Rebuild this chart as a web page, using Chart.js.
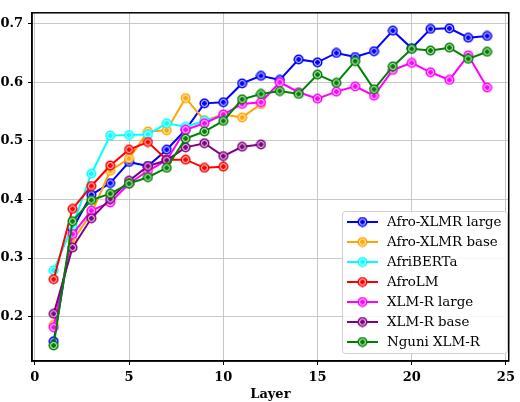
<!DOCTYPE html>
<html>
<head>
<meta charset="utf-8">
<script src="https://cdn.jsdelivr.net/npm/chart.js@4.4.0/dist/chart.umd.min.js"></script>
<style>
  html, body { margin: 0; padding: 0; background: #fff; }
  #wrap { width: 520px; height: 402px; position: relative; }
</style>
</head>
<body>
<div id="wrap"><canvas id="chart"></canvas></div>
<script>
// layer-wise scores
const layers24 = [1,2,3,4,5,6,7,8,9,10,11,12,13,14,15,16,17,18,19,20,21,22,23,24];

const afroXlmrLarge = [0.158,0.350,0.408,0.428,0.464,0.457,0.485,0.519,0.564,0.566,0.598,0.611,
                       0.604,0.639,0.634,0.650,0.643,0.653,0.688,0.658,0.691,0.692,0.676,0.679];
const afroXlmrBase  = [0.186,0.330,0.376,0.449,0.470,0.516,0.518,0.573,0.535,0.545,0.540,0.563];
const afriBerta     = [0.279,0.355,0.444,0.509,0.510,0.511,0.530,0.524,0.534,0.543];
const afroLm        = [0.264,0.384,0.423,0.458,0.485,0.498,0.468,0.468,0.454,0.456];
const xlmrLarge     = [0.182,0.341,0.381,0.395,0.427,0.449,0.467,0.519,0.530,0.545,0.563,0.566,
                       0.600,0.583,0.572,0.584,0.593,0.577,0.621,0.633,0.617,0.604,0.646,0.591];
const xlmrBase      = [0.205,0.318,0.368,0.401,0.432,0.457,0.467,0.489,0.496,0.474,0.490,0.494];
const nguniXlmr     = [0.151,0.363,0.399,0.410,0.427,0.438,0.454,0.504,0.516,0.534,0.571,0.580,
                       0.585,0.580,0.613,0.599,0.636,0.588,0.627,0.657,0.654,0.659,0.640,0.652];

const seriesNames  = ['Afro-XLMR large','Afro-XLMR base','AfriBERTa','AfroLM','XLM-R large','XLM-R base','Nguni XLM-R'];
const seriesValues = [afroXlmrLarge, afroXlmrBase, afriBerta, afroLm, xlmrLarge, xlmrBase, nguniXlmr];
const seriesColors = ['#0000ff','#ffa500','#00ffff','#ff0000','#ff00ff','#800080','#008000'];

const xTicks = [0,5,10,15,20,25];
const yTicks = [0.2,0.3,0.4,0.5,0.6,0.7];

// ring marker: coloured disc, white ring, coloured centre
function makeMarker(color) {
  const c = document.createElement('canvas');
  c.width = 11; c.height = 11;
  const g = c.getContext('2d');
  g.fillStyle = color;
  g.beginPath(); g.arc(5.5, 5.5, 5, 0, Math.PI * 2); g.fill();
  g.strokeStyle = '#ffffff';
  g.lineWidth = 1;
  g.beginPath(); g.arc(5.5, 5.5, 3, 0, Math.PI * 2); g.stroke();
  return c;
}
const markers = seriesColors.map(makeMarker);

const datasets = seriesNames.map((name, i) => ({
  label: name,
  data: seriesValues[i].map((v, k) => ({ x: layers24[k], y: v })),
  borderColor: seriesColors[i],
  backgroundColor: seriesColors[i],
  borderWidth: 2,
  pointStyle: markers[i],
  pointRadius: 5,
  order: seriesNames.length - i,
  tension: 0
}));

const serif = '"DejaVu Serif", serif';

const frameAndLegend = {
  id: 'frameAndLegend',
  afterDraw(chart) {
    const ctx = chart.ctx;
    const a = chart.chartArea;
    ctx.save();
    // full box around the plot
    ctx.strokeStyle = '#000';
    ctx.lineWidth = 1.5;
    ctx.strokeRect(a.left, a.top, a.right - a.left, a.bottom - a.top);

    // legend in lower right corner
    const bx = 342, by = 211, bw = 165, bh = 142;
    ctx.fillStyle = 'rgba(255,255,255,0.85)';
    ctx.strokeStyle = '#d0d0d0';
    ctx.lineWidth = 1;
    ctx.beginPath();
    ctx.roundRect(bx + 0.5, by + 0.5, bw, bh, 3);
    ctx.fill();
    ctx.stroke();

    ctx.font = '13.4px ' + serif;
    ctx.textBaseline = 'middle';
    seriesNames.forEach((name, i) => {
      const y = by + 11 + i * 20;
      ctx.strokeStyle = seriesColors[i];
      ctx.lineWidth = 2;
      ctx.beginPath();
      ctx.moveTo(347, y);
      ctx.lineTo(378, y);
      ctx.stroke();
      ctx.drawImage(markers[i], 362.5 - 5.5, y - 5.5);
      ctx.fillStyle = '#000';
      ctx.fillText(name, 387, y + 1);
    });
    ctx.restore();
  }
};

new Chart(document.getElementById('chart'), {
  type: 'line',
  data: { datasets: datasets },
  plugins: [frameAndLegend],
  options: {
    responsive: true,
    maintainAspectRatio: false,
    animation: false,
    layout: { padding: { top: 2, right: 7, left: 0, bottom: 0 } },
    plugins: {
      legend: { display: false },
      tooltip: { enabled: false }
    },
    scales: {
      x: {
        type: 'linear',
        min: -0.15,
        max: 25.15,
        afterBuildTicks: (s) => { s.ticks = xTicks.map(v => ({ value: v })); },
        afterFit: (s) => { s.height = 41; },
        grid: { color: '#c8c8c8', lineWidth: 1, tickLength: 4, tickColor: '#000' },
        border: { color: '#000', width: 1.5 },
        ticks: { color: '#000', padding: 5, font: { family: serif, size: 13, weight: 'bold' } },
        title: {
          display: true, text: 'Layer', color: '#000',
          padding: { top: 0, bottom: 0 },
          font: { family: serif, size: 13, weight: 'bold' }
        }
      },
      y: {
        min: 0.1245,
        max: 0.7185,
        afterBuildTicks: (s) => { s.ticks = yTicks.map(v => ({ value: v })); },
        afterFit: (s) => { s.width = 32; },
        grid: { color: '#c8c8c8', lineWidth: 1, tickLength: 4, tickColor: '#000' },
        border: { color: '#000', width: 1.5 },
        ticks: {
          color: '#000', padding: 5,
          font: { family: serif, size: 13, weight: 'bold' },
          callback: (v) => v.toFixed(1)
        }
      }
    }
  }
});
</script>
</body>
</html>
